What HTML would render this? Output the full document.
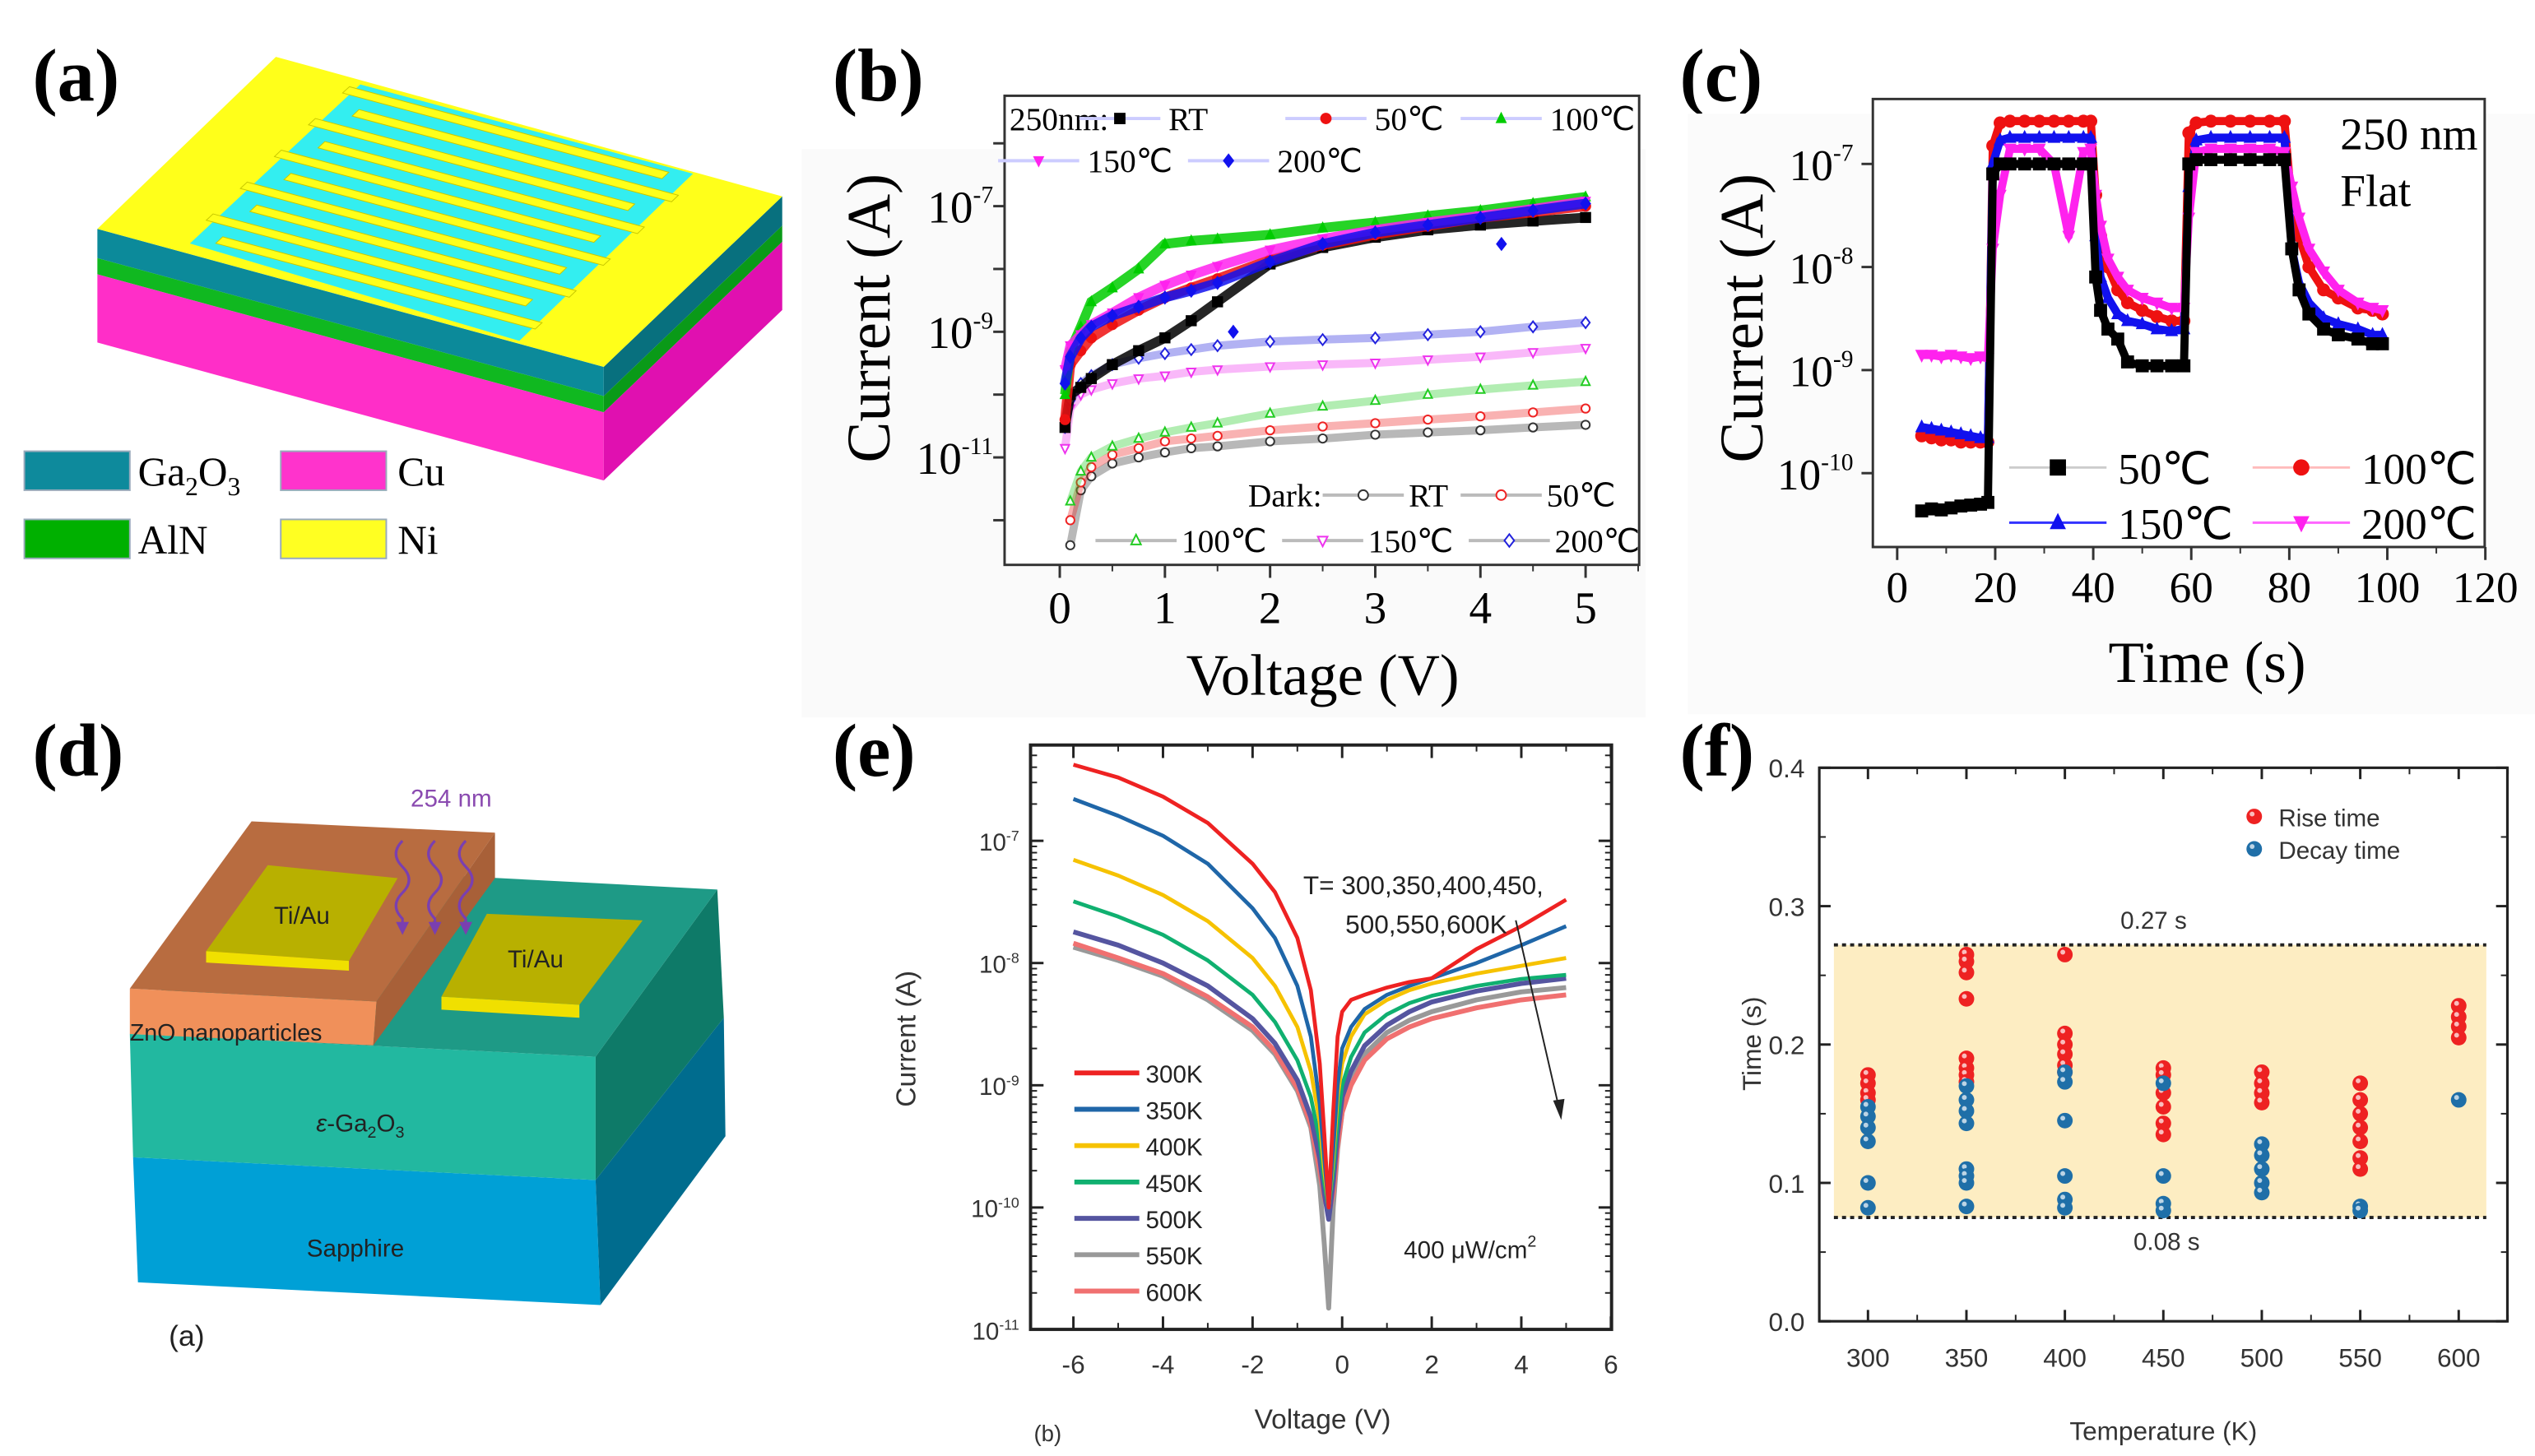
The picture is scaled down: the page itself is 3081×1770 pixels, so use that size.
<!DOCTYPE html>
<html><head><meta charset="utf-8"><style>
html,body{margin:0;padding:0;background:#fff;}
svg{display:block;}
.sf{font-family:"Liberation Serif",serif;}
.ss{font-family:"Liberation Sans",sans-serif;}
</style></head><body>
<svg id="fig" xmlns="http://www.w3.org/2000/svg" width="3081" height="1770" viewBox="0 0 1562 897" preserveAspectRatio="none">
<rect x="0" y="0" width="1562" height="897" fill="#fff"/>
<!-- Panel a -->
<g>
<text class="sf" x="20" y="62" font-size="46" font-weight="bold">(a)</text>
<g>
<polygon points="60,141 372,226 372,244 60,159" fill="#0c8a9a"/>
<polygon points="60,159 372,244 372,254 60,169" fill="#10b820"/>
<polygon points="60,169 372,254 372,296 60,211" fill="#ff2ec8"/>
<polygon points="372,226 482,121 482,139 372,244" fill="#08707e"/>
<polygon points="372,244 482,139 482,149 372,254" fill="#0a9a18"/>
<polygon points="372,254 482,149 482,191 372,296" fill="#e010b0"/>
<polygon points="60,141 170,35 482,121 372,226" fill="#ffff1a"/>
<polygon points="117,150 222,52 427,107 320,210" fill="#33eef0"/>
<g id="fingers"></g>
</g>
<g>
<rect x="15" y="278" width="65" height="24" fill="#0e8a9c" stroke="#9ab" stroke-width="1"/>
<text class="sf" x="85" y="299" font-size="25">Ga<tspan font-size="16" dy="6">2</tspan><tspan dy="-6">O</tspan><tspan font-size="16" dy="6">3</tspan></text>
<rect x="173" y="278" width="65" height="24" fill="#ff33cc" stroke="#9ab" stroke-width="1"/>
<text class="sf" x="245" y="299" font-size="25">Cu</text>
<rect x="15" y="320" width="65" height="24" fill="#00b000" stroke="#9ab" stroke-width="1"/>
<text class="sf" x="85" y="341" font-size="25">AlN</text>
<rect x="173" y="320" width="65" height="24" fill="#ffff22" stroke="#9ab" stroke-width="1"/>
<text class="sf" x="245" y="341" font-size="25">Ni</text>
</g>
</g>
<!-- Panel d -->
<g>
<text class="sf" x="20" y="478" font-size="46" font-weight="bold">(d)</text>
<polygon points="82,713 367,727 370,804 85,790" fill="#00a0d6"/>
<polygon points="367,727 446,627 447,700 370,804" fill="#006c8e"/>
<polygon points="80,637 367,651 367,727 82,713" fill="#22b8a0"/>
<polygon points="367,651 442,548 446,627 367,727" fill="#0e7a68"/>
<polygon points="80,637 155,533 442,548 367,651" fill="#1e9a86"/>
<polygon points="80,609 232,617 230,644 80,637" fill="#f0905a"/>
<polygon points="80,609 155,506 305,513 232,617" fill="#b86c40"/>
<polygon points="232,617 305,513 305,541 230,644" fill="#a86038"/>
<polygon points="165,533 245,541 215,592 127,586" fill="#b8b000"/>
<polygon points="127,586 215,592 215,598 127,593" fill="#f0e000"/>
<polygon points="300,563 396,567 357,619 272,614" fill="#b8b000"/>
<polygon points="272,614 357,619 357,627 272,622" fill="#f0e000"/>
<text class="ss" x="186" y="569" font-size="15" text-anchor="middle" fill="#222">Ti/Au</text>
<text class="ss" x="330" y="596" font-size="15" text-anchor="middle" fill="#222">Ti/Au</text>
<text class="ss" x="80" y="641" font-size="14.5" fill="#222">ZnO nanoparticles</text>
<text class="ss" x="222" y="697" font-size="15" text-anchor="middle" fill="#222"><tspan font-style="italic">ε</tspan>-Ga<tspan font-size="10" dy="4">2</tspan><tspan dy="-4">O</tspan><tspan font-size="10" dy="4">3</tspan></text>
<text class="ss" x="219" y="774" font-size="15" text-anchor="middle" fill="#222">Sapphire</text>
<text class="ss" x="278" y="497" font-size="15" text-anchor="middle" fill="#8a4ab0">254 nm</text>
<g fill="none" stroke="#7a3fb0" stroke-width="1.6">
<path d="M248,518 q-8,8 0,16 q8,8 0,16 q-8,8 0,16 l0,8"/>
<path d="M268,518 q-8,8 0,16 q8,8 0,16 q-8,8 0,16 l0,8"/>
<path d="M287,518 q-8,8 0,16 q8,8 0,16 q-8,8 0,16 l0,8"/>
</g>
<g fill="#7a3fb0"><polygon points="244,568 252,568 248,576"/><polygon points="264,568 272,568 268,576"/><polygon points="283,568 291,568 287,576"/></g>
<text class="ss" x="104" y="829" font-size="18" fill="#222">(a)</text>
</g>
<!-- Labels for charts -->
<text class="sf" x="513" y="62" font-size="46" font-weight="bold">(b)</text>
<text class="sf" x="1035" y="62" font-size="46" font-weight="bold">(c)</text>
<text class="sf" x="513" y="478" font-size="46" font-weight="bold">(e)</text>
<text class="sf" x="1035" y="478" font-size="46" font-weight="bold">(f)</text>
<g id="gb"></g>
<g id="gc"></g>
<g id="ge"></g>
<g id="gf"></g>
</svg>
<script>
// ---------- Panel b data ----------
const bVolt=[0.05,0.1,0.2,0.3,0.5,0.75,1,1.25,1.5,2,2.5,3,3.5,4,4.5,5];
const bLightRT=[3e-11,1e-10,1.3e-10,1.8e-10,3e-10,5e-10,8e-10,1.5e-9,3e-9,1.2e-8,2.2e-8,3.2e-8,4.2e-8,5e-8,5.8e-8,6.6e-8];
const bLight50=[4e-11,3e-10,5e-10,8e-10,1.3e-9,2.2e-9,3.5e-9,5e-9,7e-9,1.4e-8,2.4e-8,3.5e-8,4.8e-8,6.5e-8,8e-8,1e-7];
const bLight100=[1e-10,5e-10,1.2e-9,3e-9,5e-9,1e-8,2.5e-8,2.8e-8,3e-8,3.5e-8,4.5e-8,5.5e-8,7e-8,8.5e-8,1.1e-7,1.4e-7];
const bLight150=[2.5e-10,6e-10,9e-10,1.3e-9,2e-9,3.5e-9,5.5e-9,8e-9,1.1e-8,2e-8,3e-8,4.2e-8,5.5e-8,7e-8,9e-8,1.2e-7];
const bLight200=[1.5e-10,4e-10,8e-10,1.2e-9,1.8e-9,2.5e-9,3.5e-9,4.5e-9,6e-9,1.3e-8,2.5e-8,3.8e-8,5e-8,6.5e-8,8.5e-8,1.1e-7];
const bDarkRT=[null,4e-13,3e-12,5e-12,8e-12,1e-11,1.2e-11,1.4e-11,1.5e-11,1.8e-11,2e-11,2.3e-11,2.5e-11,2.7e-11,3e-11,3.3e-11];
const bDark50=[null,1e-12,4e-12,7e-12,1.1e-11,1.4e-11,1.8e-11,2e-11,2.2e-11,2.7e-11,3.1e-11,3.5e-11,4e-11,4.5e-11,5.2e-11,6e-11];
const bDark100=[null,2e-12,6e-12,1e-11,1.5e-11,2e-11,2.5e-11,3e-11,3.5e-11,5e-11,6.5e-11,8e-11,1e-10,1.2e-10,1.4e-10,1.6e-10];
const bDark150=[1.4e-11,6e-11,1e-10,1.2e-10,1.5e-10,1.8e-10,2e-10,2.3e-10,2.5e-10,2.8e-10,3e-10,3.2e-10,3.6e-10,4e-10,4.7e-10,5.5e-10];
const bDark200=[3e-11,8e-11,1.5e-10,2e-10,3e-10,3.8e-10,4.5e-10,5.2e-10,6e-10,7e-10,7.5e-10,8e-10,9e-10,1e-9,1.2e-9,1.4e-9];
const bDipV=[1.65,4.2];
const bDipI=[1e-9,2.5e-8];
const bXTicks=[0,1,2,3,4,5];
const bYTicks=[-7,-9,-11];
// ---------- Panel c data ----------
const cTime=[5,7,9,11,13,15,17,18.5,19.5,21,23,26,29,32,35,38,39.5,40.5,41.5,43,45,47,50,53,56,58.5,59.5,61,64,68,72,76,79,80.5,82,84,87,90,94,97,99];
const c50=[4.3e-11,4.5e-11,4.4e-11,4.6e-11,4.8e-11,4.9e-11,5e-11,5.2e-11,8e-8,1e-7,1e-7,1e-7,1e-7,1e-7,1e-7,1e-7,1e-7,8e-9,3.8e-9,2.5e-9,2e-9,1.2e-9,1.1e-9,1.1e-9,1.1e-9,1.1e-9,1e-7,1.1e-7,1.1e-7,1.1e-7,1.1e-7,1.1e-7,1.1e-7,1.5e-8,6e-9,3.5e-9,2.5e-9,2.2e-9,2e-9,1.8e-9,1.8e-9];
const c100=[2.3e-10,2.2e-10,2.1e-10,2.1e-10,2e-10,2e-10,2e-10,2e-10,1.5e-7,2.5e-7,2.6e-7,2.6e-7,2.6e-7,2.6e-7,2.6e-7,2.6e-7,2.6e-7,5e-8,2e-8,1e-8,6e-9,4.5e-9,3.8e-9,3.3e-9,3e-9,3e-9,2e-7,2.5e-7,2.6e-7,2.6e-7,2.6e-7,2.6e-7,2.6e-7,4e-8,2e-8,1e-8,6e-9,5e-9,4e-9,3.8e-9,3.5e-9];
const c150=[2.8e-10,2.7e-10,2.6e-10,2.5e-10,2.4e-10,2.3e-10,2.2e-10,2.2e-10,1e-7,1.7e-7,1.8e-7,1.8e-7,1.8e-7,1.8e-7,1.8e-7,1.8e-7,1.8e-7,2e-8,8e-9,5e-9,3.5e-9,3e-9,2.8e-9,2.5e-9,2.4e-9,2.5e-9,6e-8,1.7e-7,1.8e-7,1.8e-7,1.8e-7,1.8e-7,1.8e-7,1.5e-8,7e-9,4.5e-9,3.2e-9,2.8e-9,2.5e-9,2.2e-9,2.2e-9];
const c200=[1.4e-9,1.4e-9,1.35e-9,1.4e-9,1.35e-9,1.3e-9,1.35e-9,1.3e-9,1.5e-8,5e-8,1.4e-7,1.4e-7,1.4e-7,1e-7,2e-8,1.3e-7,1.4e-7,5e-8,2.5e-8,1.2e-8,8e-9,6e-9,5e-9,4.5e-9,4e-9,4e-9,3e-8,1.3e-7,1.4e-7,1.4e-7,1.4e-7,1.4e-7,1.3e-7,6e-8,3e-8,1.5e-8,9e-9,6e-9,4.5e-9,4e-9,3.8e-9];
const cXTicks=[0,20,40,60,80,100,120];
const cYTicks=[-7,-8,-9,-10];
// ---------- Panel e data ----------
const eVolt=[-6,-5,-4,-3,-2,-1.5,-1,-0.7,-0.5,-0.4,-0.3,-0.2,-0.1,0,0.2,0.5,1,1.5,2,3,4,5];
const e300=[4.2e-7,3.3e-7,2.3e-7,1.4e-7,6.5e-8,3.8e-8,1.6e-8,6e-9,1.5e-9,4e-10,1e-10,6e-10,2.5e-9,4e-9,5e-9,5.5e-9,6.3e-9,7e-9,7.5e-9,1.3e-8,2e-8,3.3e-8];
const e350=[2.2e-7,1.6e-7,1.1e-7,6.5e-8,2.8e-8,1.6e-8,6.5e-9,2.5e-9,7e-10,2.5e-10,1e-10,3e-10,1e-9,2e-9,3e-9,4.2e-9,5.5e-9,6.5e-9,7.5e-9,1e-8,1.4e-8,2e-8];
const e400=[7e-8,5.2e-8,3.6e-8,2.2e-8,1.1e-8,6.5e-9,3e-9,1.3e-9,5e-10,2e-10,1e-10,2.5e-10,8e-10,1.5e-9,2.5e-9,3.8e-9,5e-9,6e-9,6.8e-9,8.2e-9,9.5e-9,1.1e-8];
const e450=[3.2e-8,2.4e-8,1.7e-8,1.05e-8,5.5e-9,3.3e-9,1.6e-9,8e-10,3.5e-10,1.6e-10,1e-10,2e-10,5e-10,1e-9,1.7e-9,2.7e-9,3.8e-9,4.7e-9,5.4e-9,6.5e-9,7.4e-9,8e-9];
const e500=[1.8e-8,1.4e-8,1e-8,6.5e-9,3.5e-9,2.2e-9,1.1e-9,5.5e-10,2.5e-10,1.3e-10,8e-11,1.6e-10,4e-10,8e-10,1.3e-9,2.1e-9,3.1e-9,4e-9,4.8e-9,5.9e-9,6.8e-9,7.5e-9];
const e550=[1.35e-8,1.05e-8,7.8e-9,5e-9,2.8e-9,1.8e-9,9e-10,4.5e-10,1.5e-10,5e-11,1.5e-11,1e-10,3e-10,6e-10,1.1e-9,1.8e-9,2.7e-9,3.4e-9,4e-9,5e-9,5.8e-9,6.3e-9];
const e600=[1.45e-8,1.1e-8,8.2e-9,5.3e-9,3e-9,1.9e-9,9.5e-10,4.8e-10,2e-10,1.2e-10,9e-11,1.3e-10,3.2e-10,6e-10,1e-9,1.6e-9,2.4e-9,3e-9,3.5e-9,4.3e-9,5e-9,5.5e-9];
const eLabels=['300K','350K','400K','450K','500K','550K','600K'];
const eXTicks=[-6,-4,-2,0,2,4,6];
const eYTicks=[-7,-8,-9,-10,-11];
// ---------- Panel f data ----------
const fTemps=[300,350,400,450,500,550,600];
const fRise300=[0.178,0.172,0.165,0.16];
const fRise350=[0.265,0.26,0.252,0.233,0.19,0.183,0.178,0.173];
const fRise400=[0.265,0.208,0.2,0.193,0.185,0.18];
const fRise450=[0.183,0.178,0.165,0.155,0.143,0.135];
const fRise500=[0.18,0.172,0.165,0.158];
const fRise550=[0.172,0.16,0.15,0.14,0.13,0.118,0.11];
const fRise600=[0.228,0.22,0.213,0.205];
const fDecay300=[0.155,0.148,0.14,0.13,0.1,0.082];
const fDecay350=[0.17,0.16,0.152,0.143,0.11,0.105,0.1,0.083];
const fDecay400=[0.18,0.173,0.145,0.105,0.088,0.082];
const fDecay450=[0.172,0.105,0.085,0.08];
const fDecay500=[0.128,0.12,0.11,0.1,0.093];
const fDecay550=[0.083,0.08];
const fDecay600=[0.16];
const fBand=[0.075,0.272];
const fYTicks=[0,0.1,0.2,0.3,0.4];

const NS='http://www.w3.org/2000/svg';
function mk(tag,attrs,parent){const e=document.createElementNS(NS,tag);for(const k in attrs)e.setAttribute(k,attrs[k]);parent.appendChild(e);return e;}
function txt(s,attrs,parent){const e=mk('text',attrs,parent);e.textContent=s;return e;}
function pow10(exp,attrs,parent,supSize,dy){const t=mk('text',attrs,parent);const a=document.createElementNS(NS,'tspan');a.textContent='10';t.appendChild(a);const b=document.createElementNS(NS,'tspan');b.textContent=String(exp);b.setAttribute('font-size',supSize);b.setAttribute('dy',-dy);t.appendChild(b);return t;}
function pts(xs,ys,fx,fy){const r=[];for(let i=0;i<xs.length;i++){if(ys[i]==null)continue;r.push(fx(xs[i]).toFixed(1)+','+fy(ys[i]).toFixed(1));}return r.join(' ');}
function marker(type,x,y,s,fill,stroke,parent){let e;
 if(type==='sq')e=mk('rect',{x:x-s,y:y-s,width:2*s,height:2*s,fill:fill,stroke:stroke},parent);
 else if(type==='ci')e=mk('circle',{cx:x,cy:y,r:s,fill:fill,stroke:stroke},parent);
 else if(type==='tu')e=mk('polygon',{points:`${x},${y-s*1.2} ${x+s},${y+s*0.8} ${x-s},${y+s*0.8}`,fill:fill,stroke:stroke},parent);
 else if(type==='td')e=mk('polygon',{points:`${x},${y+s*1.2} ${x+s},${y-s*0.8} ${x-s},${y-s*0.8}`,fill:fill,stroke:stroke},parent);
 else e=mk('polygon',{points:`${x},${y-s*1.3} ${x+s},${y} ${x},${y+s*1.3} ${x-s},${y}`,fill:fill,stroke:stroke},parent);
 return e;}

// ---------- fingers panel a ----------
(function(){const g=document.getElementById('fingers');const P1=[222,52],u=[205,55],w=[-105,98];const N=20;
 for(let i=0;i<N;i+=2){const s0=(i+0.5)/N,s1=(i+1.3)/N;const left=(i/2)%2===0;const a0=left?-0.02:0.06,a1=left?0.94:1.02;
  const p=(a,s)=>[P1[0]+u[0]*a+w[0]*s,P1[1]+u[1]*a+w[1]*s];
  const q=[p(a0,s0),p(a1,s0),p(a1,s1),p(a0,s1)].map(v=>v[0].toFixed(1)+','+v[1].toFixed(1)).join(' ');
  const f=mk('polygon',{points:q,fill:'#ffff1a',stroke:'#c8c800','stroke-width':0.5},g);
  
  }
})();

// ---------- Panel b ----------
(function(){const g=document.getElementById('gb');
 const xb=v=>653+64.8*v, yb=I=>127-(Math.log10(I)+7)*38.7;
 const bg=mk('rect',{x:494,y:92,width:520,height:350,fill:'#fafafa'},g);
 
 
 mk('rect',{x:619,y:59,width:391,height:289,fill:'#fff'},g);
 const dark=[[bDarkRT,'#333','#999','ci'],[bDark50,'#e22','#f99','ci'],[bDark100,'#2c2','#aaf','tu'],[bDark150,'#e3e','#f9f','td'],[bDark200,'#22d','#8e8','di']];
 const darkNames=['dark-rt','dark-50c','dark-100c','dark-150c','dark-200c'];
 dark.forEach((d,k)=>{const s=mk('g',{},g);
  
  
  mk('polyline',{points:pts(bVolt,d[0],xb,yb),fill:'none',stroke:d[1],'stroke-width':5,'stroke-opacity':0.35},s);
  bVolt.forEach((v,i)=>{if(d[0][i]==null)return;marker(d[3],xb(v),yb(d[0][i]),2.6,'#fff',d[1],s);});});
 const light=[[bLightRT,'#000','sq'],[bLight50,'#e11','ci'],[bLight100,'#0c0','tu'],[bLight150,'#f2e','td'],[bLight200,'#11e','di']];
 const lightNames=['light-rt','light-50c','light-100c','light-150c','light-200c'];
 light.forEach((d,k)=>{const s=mk('g',{},g);
  
  
  mk('polyline',{points:pts(bVolt,d[0],xb,yb),fill:'none',stroke:d[1],'stroke-width':6,'stroke-opacity':0.85},s);
  bVolt.forEach((v,i)=>marker(d[2],xb(v),yb(d[0][i]),3.4,d[1],'none',s));});
 bDipV.forEach((v,i)=>{const m=marker('di',xb(v),yb(bDipI[i]),3.4,'#11e','none',g);
  
  });
 const fr=mk('rect',{x:619,y:59,width:391,height:289,fill:'none',stroke:'#333','stroke-width':1.5},g);
 
 
 bXTicks.forEach(v=>{mk('line',{x1:xb(v),x2:xb(v),y1:348,y2:356,stroke:'#333','stroke-width':1.5},g);
  mk('line',{x1:xb(v+0.5),x2:xb(v+0.5),y1:348,y2:352,stroke:'#333','stroke-width':1},g);
  const t=txt(String(v),{x:xb(v),y:384,'font-size':28,'text-anchor':'middle',class:'sf'},g);
  
  });
 for(let e=-12;e<=-6;e++){const y=yb(Math.pow(10,e));if(y<59||y>348)continue;mk('line',{x1:612,x2:619,y1:y,y2:y,stroke:'#333','stroke-width':1.5},g);}
 bYTicks.forEach(e=>{const t=pow10(e,{x:612,y:yb(Math.pow(10,e))+10,'font-size':28,'text-anchor':'end',class:'sf'},g,15,12);
  
  });
 const xl=txt('Voltage (V)',{x:815,y:428,'font-size':36,'text-anchor':'middle',class:'sf'},g);
 
 
 const yl=txt('Current (A)',{x:0,y:0,'font-size':38,'text-anchor':'middle',class:'sf',transform:'translate(548,196) rotate(-90)'},g);
 
 
 const lg=mk('g',{class:'sf','font-size':20},g);
 
 
 txt('250nm:',{x:622,y:80},lg);
 const L1=[[690,80,'#000','sq','RT'],[817,80,'#e11','ci','50℃'],[925,80,'#0c0','tu','100℃'],[640,106,'#f2e','td','150℃'],[757,106,'#11e','di','200℃']];
 L1.forEach(l=>{mk('line',{x1:l[0]-25,x2:l[0]+25,y1:l[1]-7,y2:l[1]-7,stroke:'#ccf','stroke-width':2},lg);marker(l[3],l[0],l[1]-7,3.5,l[2],'none',lg);txt(l[4],{x:l[0]+30,y:l[1]},lg);});
 const lg2=mk('g',{class:'sf','font-size':20},g);
 
 
 txt('Dark:',{x:769,y:312},lg2);
 const L2=[[840,312,'#333','ci','RT'],[925,312,'#e22','ci','50℃'],[700,340,'#2c2','tu','100℃'],[815,340,'#e3e','td','150℃'],[930,340,'#22d','di','200℃']];
 L2.forEach(l=>{mk('line',{x1:l[0]-25,x2:l[0]+25,y1:l[1]-7,y2:l[1]-7,stroke:'#bbb','stroke-width':2},lg2);marker(l[3],l[0],l[1]-7,3,'#fff',l[2],lg2);txt(l[4],{x:l[0]+28,y:l[1]},lg2);});
})();

// ---------- Panel c ----------
(function(){const g=document.getElementById('gc');
 const xc=t=>1169+3.02*t, yc=I=>101-(Math.log10(I)+7)*63.5;
 const bg=mk('rect',{x:1040,y:70,width:522,height:370,fill:'#fbfbfb'},g);
 
 
 mk('rect',{x:1154,y:61,width:377,height:276,fill:'#fff'},g);
 const S=[[c50,'#000','sq','50c'],[c150,'#11e','tu','150c'],[c100,'#e11','ci','100c'],[c200,'#f2e','td','200c']];
 const order=[2,1,3,0];
 order.forEach(k=>{const d=S[k];const s=mk('g',{},g);
  
  
  mk('polyline',{points:pts(cTime,d[0],xc,yc),fill:'none',stroke:d[1],'stroke-width':5,'stroke-linejoin':'round'},s);
  cTime.forEach((t,i)=>marker(d[2],xc(t),yc(d[0][i]),4,d[1],'none',s));});
 const fr=mk('rect',{x:1154,y:61,width:377,height:276,fill:'none',stroke:'#333','stroke-width':1.5},g);
 
 
 cXTicks.forEach(v=>{mk('line',{x1:xc(v),x2:xc(v),y1:337,y2:345,stroke:'#333','stroke-width':1.5},g);
  if(v<120)mk('line',{x1:xc(v+10),x2:xc(v+10),y1:337,y2:341,stroke:'#333','stroke-width':1},g);
  const t=txt(String(v),{x:xc(v),y:371,'font-size':27,'text-anchor':'middle',class:'sf'},g);
  
  });
 cYTicks.forEach(e=>{const y=yc(Math.pow(10,e));mk('line',{x1:1147,x2:1154,y1:y,y2:y,stroke:'#333','stroke-width':1.5},g);
  const t=pow10(e,{x:1142,y:y+10,'font-size':27,'text-anchor':'end',class:'sf'},g,15,12);
  
  });
 const xl=txt('Time (s)',{x:1360,y:420,'font-size':36,'text-anchor':'middle',class:'sf'},g);
 
 
 const yl=txt('Current (A)',{x:0,y:0,'font-size':38,'text-anchor':'middle',class:'sf',transform:'translate(1086,196) rotate(-90)'},g);
 
 
 const a=txt('250 nm',{x:1442,y:92,'font-size':28,class:'sf'},g);
 
 
 txt('Flat',{x:1442,y:127,'font-size':28,class:'sf'},g);
 const lg=mk('g',{class:'sf','font-size':27},g);
 
 
 const L=[[1268,288,'#000','sq','50℃','#ccc'],[1418,288,'#e11','ci','100℃','#fbb'],[1268,322,'#11e','tu','150℃','#33f'],[1418,322,'#f2e','td','200℃','#f6f']];
 L.forEach(l=>{mk('line',{x1:l[0]-30,x2:l[0]+30,y1:l[1],y2:l[1],stroke:l[5],'stroke-width':1.5},lg);marker(l[3],l[0],l[1],5,l[2],'none',lg);txt(l[4],{x:l[0]+37,y:l[1]+10},lg);});
})();

// ---------- Panel e ----------
(function(){const g=document.getElementById('ge');
 const xe=v=>827+27.6*v, ye=I=>518-(Math.log10(I)+7)*75.3;
 const all=[e300,e350,e400,e450,e500,e550,e600];
 const cols=['#ee2222','#1f66a8','#f6c200','#10b070','#5555a0','#999999','#f07070'];
 [5,6,4,3,2,1,0].forEach(k=>{const p=mk('polyline',{points:pts(eVolt,all[k],xe,ye),fill:'none',stroke:cols[k],'stroke-width':k>=4?3:2.4,'stroke-linejoin':'round'},g);
  
  });
 const fr=mk('rect',{x:635,y:459,width:358,height:360,fill:'none',stroke:'#222','stroke-width':2},g);
 
 
 eXTicks.forEach(v=>{mk('line',{x1:xe(v),x2:xe(v),y1:819,y2:811,stroke:'#222','stroke-width':1.5},g);
  mk('line',{x1:xe(v),x2:xe(v),y1:459,y2:467,stroke:'#222','stroke-width':1.5},g);
  if(v<6){mk('line',{x1:xe(v+1),x2:xe(v+1),y1:819,y2:815,stroke:'#222'},g);mk('line',{x1:xe(v+1),x2:xe(v+1),y1:459,y2:463,stroke:'#222'},g);}
  const t=txt(String(v),{x:xe(v),y:846,'font-size':16,'text-anchor':'middle',class:'ss',fill:'#333'},g);
  
  });
 eYTicks.forEach(e=>{const y=ye(Math.pow(10,e));mk('line',{x1:635,x2:643,y1:y,y2:y,stroke:'#222','stroke-width':1.5},g);mk('line',{x1:985,x2:993,y1:y,y2:y,stroke:'#222','stroke-width':1.5},g);
  for(let m=2;m<10;m++){const yy=ye(m*Math.pow(10,e));if(yy<459)continue;mk('line',{x1:635,x2:639,y1:yy,y2:yy,stroke:'#222'},g);mk('line',{x1:989,x2:993,y1:yy,y2:yy,stroke:'#222'},g);}
  const t=pow10(e,{x:628,y:y+6,'font-size':15,'text-anchor':'end',class:'ss',fill:'#333'},g,9,6);
  
  });
 const xl=txt('Voltage (V)',{x:815,y:880,'font-size':17,'text-anchor':'middle',class:'ss',fill:'#333'},g);
 
 
 const yl=txt('Current (A)',{x:0,y:0,'font-size':17,'text-anchor':'middle',class:'ss',fill:'#333',transform:'translate(564,640) rotate(-90)'},g);
 
 
 txt('(b)',{x:637,y:888,'font-size':14,class:'ss',fill:'#333'},g);
 const an=txt('T= 300,350,400,450,',{x:803,y:551,'font-size':16,class:'ss',fill:'#222'},g);
 
 
 txt('500,550,600K',{x:829,y:575,'font-size':16,class:'ss',fill:'#222'},g);
 mk('line',{x1:934,y1:567,x2:960,y2:680,stroke:'#222','stroke-width':1},g);
 mk('polygon',{points:'957,678 964,677 962,690',fill:'#222'},g);
 const pw=mk('text',{x:865,y:775,'font-size':15,class:'ss',fill:'#222'},g);
 pw.textContent='400 μW/cm';
 const sp=document.createElementNS(NS,'tspan');sp.textContent='2';sp.setAttribute('font-size','10');sp.setAttribute('dy','-7');pw.appendChild(sp);
 
 
 const lg=mk('g',{},g);
 
 
 eLabels.forEach((l,k)=>{const y=661+22.4*k;mk('line',{x1:662,x2:702,y1:y,y2:y,stroke:cols[k],'stroke-width':3},lg);txt(l,{x:706,y:y+6,'font-size':15,class:'ss',fill:'#222'},lg);});
})();

// ---------- Panel f ----------
(function(){const g=document.getElementById('gf');
 const xf=T=>1151+(T-300)*1.2133, yf=t=>814-t*852.5;
 const band=mk('rect',{x:1130,y:yf(fBand[1]),width:402,height:yf(fBand[0])-yf(fBand[1]),fill:'#fdedc2'},g);
 
 
 fBand.forEach(b=>{const l=mk('line',{x1:1130,x2:1532,y1:yf(b),y2:yf(b),stroke:'#222','stroke-width':2,'stroke-dasharray':'2.5,2.5'},g);
  
  });
 const t1=txt('0.27 s',{x:1327,y:yf(fBand[1])-10,'font-size':15,'text-anchor':'middle',class:'ss',fill:'#333'},g);
 
 
 const t2=txt('0.08 s',{x:1335,y:yf(fBand[0])+20,'font-size':15,'text-anchor':'middle',class:'ss',fill:'#333'},g);
 
 
 const rise=[fRise300,fRise350,fRise400,fRise450,fRise500,fRise550,fRise600];
 const decay=[fDecay300,fDecay350,fDecay400,fDecay450,fDecay500,fDecay550,fDecay600];
 function dot(x,y,c,parent){mk('circle',{cx:x,cy:y,r:4.8,fill:c},parent);mk('circle',{cx:x-1.3,cy:y-1.5,r:1.5,fill:'#fff','fill-opacity':0.7},parent);}
 const gr=mk('g',{},g);
 
 
 rise.forEach((arr,i)=>arr.forEach(v=>dot(xf(fTemps[i]),yf(v),'#ee2222',gr)));
 const gd=mk('g',{},g);
 
 
 decay.forEach((arr,i)=>arr.forEach(v=>dot(xf(fTemps[i]),yf(v),'#1f6fa8',gd)));
 const fr=mk('rect',{x:1121,y:473,width:424,height:341,fill:'none',stroke:'#222','stroke-width':1.6},g);
 
 
 fTemps.forEach(T=>{mk('line',{x1:xf(T),x2:xf(T),y1:814,y2:807,stroke:'#222','stroke-width':1.5},g);mk('line',{x1:xf(T),x2:xf(T),y1:473,y2:480,stroke:'#222','stroke-width':1.5},g);
  mk('line',{x1:xf(T+25),x2:xf(T+25),y1:814,y2:810,stroke:'#222'},g);mk('line',{x1:xf(T+25),x2:xf(T+25),y1:473,y2:477,stroke:'#222'},g);
  const t=txt(String(T),{x:xf(T),y:842,'font-size':16,'text-anchor':'middle',class:'ss',fill:'#333'},g);
  
  });
 fYTicks.forEach(v=>{const y=yf(v);mk('line',{x1:1121,x2:1128,y1:y,y2:y,stroke:'#222','stroke-width':1.5},g);mk('line',{x1:1538,x2:1545,y1:y,y2:y,stroke:'#222','stroke-width':1.5},g);
  if(v<0.4){mk('line',{x1:1121,x2:1125,y1:yf(v+0.05),y2:yf(v+0.05),stroke:'#222'},g);mk('line',{x1:1541,x2:1545,y1:yf(v+0.05),y2:yf(v+0.05),stroke:'#222'},g);}
  const t=txt(v.toFixed(1),{x:1112,y:y+6,'font-size':16,'text-anchor':'end',class:'ss',fill:'#333'},g);
  
  });
 const xl=txt('Temperature (K)',{x:1333,y:887,'font-size':16,'text-anchor':'middle',class:'ss',fill:'#333'},g);
 
 
 const yl=txt('Time (s)',{x:0,y:0,'font-size':16,'text-anchor':'middle',class:'ss',fill:'#333',transform:'translate(1085,643) rotate(-90)'},g);
 
 
 const lg=mk('g',{},g);
 
 
 dot(1389,503,'#ee2222',lg);txt('Rise time',{x:1404,y:509,'font-size':15,class:'ss',fill:'#333'},lg);
 dot(1389,523,'#1f6fa8',lg);txt('Decay time',{x:1404,y:529,'font-size':15,class:'ss',fill:'#333'},lg);
})();
</script>
</body></html>
